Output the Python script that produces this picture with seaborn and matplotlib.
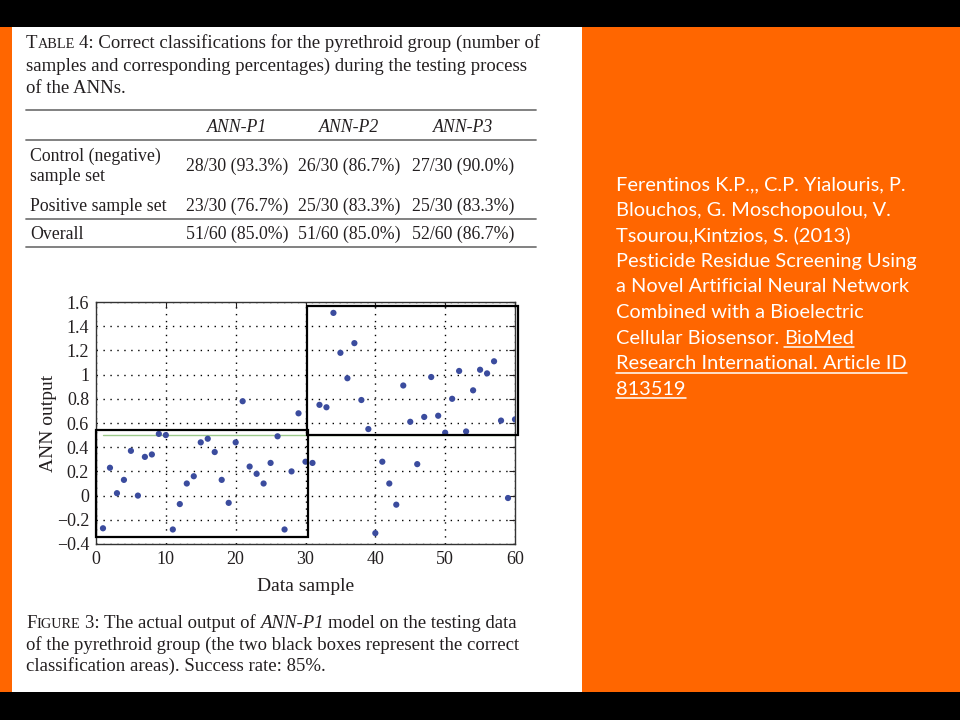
import matplotlib
matplotlib.use("Agg")
import matplotlib.pyplot as plt
import seaborn as sns
import pandas as pd
from matplotlib.patches import Rectangle
from matplotlib.lines import Line2D

# data
sample = list(range(1, 61))
ann_output = [-0.27, 0.23, 0.02, 0.13, 0.37, 0.00, 0.32, 0.34, 0.51, 0.50,
              -0.28, -0.07, 0.10, 0.16, 0.44, 0.47, 0.36, 0.13, -0.06, 0.44,
              0.78, 0.24, 0.18, 0.10, 0.27, 0.49, -0.28, 0.20, 0.68, 0.28,
              0.27, 0.75, 0.73, 1.51, 1.18, 0.97, 1.26, 0.79, 0.55, -0.31,
              0.28, 0.10, -0.075, 0.91, 0.61, 0.26, 0.65, 0.98, 0.66, 0.52,
              0.80, 1.03, 0.53, 0.87, 1.04, 1.01, 1.11, 0.62, -0.02, 0.63]
threshold = 0.5
box_negative = [0.0, 30.3, -0.34, 0.54]   # x0, x1, y0, y1
box_positive = [30.2, 60.4, 0.50, 1.57]
x_ticks = [0, 10, 20, 30, 40, 50, 60]
y_ticks = [-0.4, -0.2, 0, 0.2, 0.4, 0.6, 0.8, 1, 1.2, 1.4, 1.6]
y_tick_labels = ["\u22120.4", "\u22120.2", "0", "0.2", "0.4", "0.6", "0.8", "1", "1.2", "1.4", "1.6"]

table_cols = ["ANN-P1", "ANN-P2", "ANN-P3"]
table_rows = [["Control (negative)", "sample set"], ["Positive sample set"], ["Overall"]]
table_vals = [["28/30 (93.3%)", "26/30 (86.7%)", "27/30 (90.0%)"],
              ["23/30 (76.7%)", "25/30 (83.3%)", "25/30 (83.3%)"],
              ["51/60 (85.0%)", "51/60 (85.0%)", "52/60 (86.7%)"]]

ref_lines = ["Ferentinos K.P.,, C.P. Yialouris, P.",
             "Blouchos, G. Moschopoulou, V.",
             "Tsourou,Kintzios, S. (2013)",
             "Pesticide Residue Screening Using",
             "a Novel Artificial Neural Network",
             "Combined with a Bioelectric"]
ref_plain = "Cellular Biosensor."
ref_linked = ["BioMed", "Research International. Article ID", "813519"]

W, H = 960, 720
ORANGE = "#ff6600"
INK = "#231f20"
SERIF = "Liberation Serif"

sns.set_style("white")
plt.rcParams["font.family"] = SERIF

fig = plt.figure(figsize=(9.6, 7.2), dpi=100, facecolor="black")
r = fig.canvas.get_renderer()


def fx(x):
    return x / W


def fy(y):
    return 1 - y / H


def rect(x0, y0, x1, y1, color):
    fig.add_artist(Rectangle((fx(x0), fy(y1)), fx(x1) - fx(x0), fy(y0) - fy(y1),
                             transform=fig.transFigure, facecolor=color,
                             edgecolor="none", zorder=0))


def hline(x0, x1, y, color, lw):
    fig.add_artist(Line2D([fx(x0), fx(x1)], [fy(y), fy(y)], transform=fig.transFigure,
                          color=color, lw=lw))


def chain(parts, x, y, color=INK, family=SERIF, underline=False):
    # parts: (text, size, style, gap after in px)
    for s, size, style, gap in parts:
        t = fig.text(fx(x), fy(y), s, fontsize=size, style=style, color=color,
                     family=family, va="baseline", ha="left")
        bb = t.get_window_extent(renderer=r)
        if underline:
            hline(bb.x0, bb.x1, y + 3.5, color, 1.1)
        x = bb.x1 + gap
    return x


# slide background
rect(0, 27, 12, 692, ORANGE)
rect(12, 27, 582, 692, "white")
rect(582, 27, 960, 692, ORANGE)

# table caption
cap = 13.5
sc = cap * 0.76
sp = 4.5
chain([("T", cap, "normal", 0), ("ABLE", sc, "normal", sp),
       ("4: Correct classifications for the pyrethroid group (number of", cap, "normal", 0)],
      26, 48)
chain([("samples and corresponding percentages) during the testing process", cap, "normal", 0)], 26, 71)
chain([("of the ANNs.", cap, "normal", 0)], 26, 93)

# table
tab = 12.8
for y in [110, 140, 219, 247]:
    hline(26, 536, y, "#777777", 1.3)
col_x = [237, 349, 463]
for cx, name in zip(col_x, table_cols):
    fig.text(fx(cx), fy(132), name, fontsize=tab, style="italic", color=INK,
             ha="center", va="baseline")
row_base = [[161, 181], [211], [239]]
val_base = [171, 211, 239]
for labels, bases, vals, vb in zip(table_rows, row_base, table_vals, val_base):
    for lab, b in zip(labels, bases):
        fig.text(fx(30), fy(b), lab, fontsize=tab, color=INK, ha="left", va="baseline")
    for cx, v in zip(col_x, vals):
        fig.text(fx(cx), fy(vb), v, fontsize=tab, color=INK, ha="center", va="baseline")

# scatter chart
ax = fig.add_axes([fx(96), fy(544), fx(515) - fx(96), fy(302) - fy(544)])
df = pd.DataFrame({"sample": sample, "output": ann_output})
ax.plot([1, 60], [threshold, threshold], color="#9cc98a", lw=1.0, zorder=1)
sns.scatterplot(data=df, x="sample", y="output", ax=ax, color="#3b4c9e",
                s=20, edgecolor="none", zorder=3)
for bx0, bx1, by0, by1 in [box_negative, box_positive]:
    ax.add_patch(Rectangle((bx0, by0), bx1 - bx0, by1 - by0, fill=False,
                           edgecolor="black", lw=1.6, clip_on=False, zorder=4))
ax.set_xlim(0, 60)
ax.set_ylim(-0.4, 1.6)
ax.set_xticks(x_ticks)
ax.set_yticks(y_ticks)
ax.set_yticklabels(y_tick_labels)
ax.grid(True, color="black", linestyle=(0, (1, 4)), lw=1.0)
ax.tick_params(direction="in", length=4, top=True, right=True, labelsize=13,
               colors=INK, labelcolor=INK, pad=5)
for s in ax.spines.values():
    s.set_color("#333333")
    s.set_linewidth(1.0)
ax.set_xlabel("Data sample", fontsize=14, color=INK, labelpad=7)
ax.set_ylabel("ANN output", fontsize=14, color=INK, labelpad=0)

# figure caption
chain([("F", cap, "normal", 0), ("IGURE", sc, "normal", sp),
       ("3: The actual output of", cap, "normal", sp),
       ("ANN-P1", cap, "italic", sp), ("model on the testing data", cap, "normal", 0)],
      26, 628)
chain([("of the pyrethroid group (the two black boxes represent the correct", cap, "normal", 0)], 26, 650)
chain([("classification areas). Success rate: 85%.", cap, "normal", 0)], 26, 671)

# reference text on the orange panel
rs = 14.4
base = 190
step = 25.6
for i, line in enumerate(ref_lines):
    fig.text(fx(616), fy(base + i * step), line, fontsize=rs, color="white",
             family="Lato", ha="left", va="baseline")
y7 = base + 6 * step
xe = chain([(ref_plain, rs, "normal", 5)], 616, y7, color="white", family="Lato")
chain([(ref_linked[0], rs, "normal", 0)], xe, y7, color="white", family="Lato", underline=True)
chain([(ref_linked[1], rs, "normal", 0)], 616, y7 + step, color="white", family="Lato", underline=True)
chain([(ref_linked[2], rs, "normal", 0)], 616, y7 + 2 * step, color="white", family="Lato", underline=True)

fig.savefig("out.png", dpi=100, facecolor="black")
